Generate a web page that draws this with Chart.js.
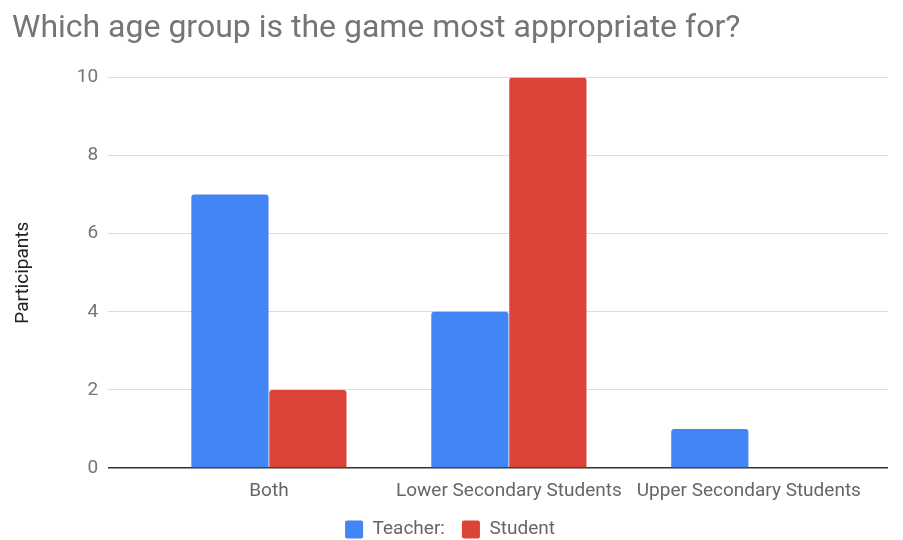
<!DOCTYPE html>
<html>
<head>
<meta charset="utf-8">
<script src="https://cdn.jsdelivr.net/npm/chart.js@4/dist/chart.umd.min.js"></script>
<style>
  html, body { margin: 0; padding: 0; background: #fff; }
  #wrap { width: 903px; height: 540px; }
</style>
</head>
<body>
<div id="wrap"><canvas id="ageChart"></canvas></div>
<script>
// Survey answers per age group
const categories = ['Both', 'Lower Secondary Students', 'Upper Secondary Students'];
const teacherCounts = [7, 4, 1];
const studentCounts = [2, 10, 0];
const yTicks = [0, 2, 4, 6, 8, 10];

// groups sit on a numeric axis so the band can be inset from the gridlines
const groupIndex = categories.map((_, i) => i);
const xRange = { min: -0.67, max: 2.58 };

const colors = {
  teacher: '#4285F4',
  student: '#DB4437',
  title: '#757575',
  tick: '#757575',
  label: '#666666',
  grid: '#dcdcdc',
  zero: '#333333'
};

const font = 'Roboto, "Noto Sans", sans-serif';

new Chart(document.getElementById('ageChart'), {
  type: 'bar',
  data: {
    labels: groupIndex,
    datasets: [
      {
        label: 'Teacher:',
        data: teacherCounts,
        backgroundColor: colors.teacher,
        borderRadius: 3,
        borderSkipped: 'bottom',
        categoryPercentage: 0.65,
        barPercentage: 0.99
      },
      {
        label: 'Student',
        data: studentCounts,
        backgroundColor: colors.student,
        borderRadius: 3,
        borderSkipped: 'bottom',
        categoryPercentage: 0.65,
        barPercentage: 0.99
      }
    ]
  },
  options: {
    responsive: true,
    maintainAspectRatio: false,
    animation: false,
    // legend box hangs a little past the bottom edge so its row sits low
    layout: { padding: { left: 12, right: 15, top: 0, bottom: -9 } },
    plugins: {
      title: {
        display: true,
        text: 'Which age group is the game most appropriate for?',
        align: 'start',
        color: colors.title,
        font: { family: font, size: 32, weight: 'normal' },
        padding: { top: 10, bottom: 29 }
      },
      legend: {
        position: 'bottom',
        labels: {
          color: colors.label,
          font: { family: font, size: 19 },
          boxWidth: 18,
          boxHeight: 18,
          padding: 17,
          useBorderRadius: true,
          borderRadius: 2
        }
      },
      tooltip: { enabled: false }
    },
    scales: {
      x: {
        type: 'linear',
        offset: false,
        min: xRange.min,
        max: xRange.max,
        afterBuildTicks: axis => { axis.ticks = groupIndex.map(v => ({ value: v })); },
        grid: { display: false, drawTicks: false },
        border: { display: false },
        ticks: {
          color: colors.label,
          font: { family: font, size: 19 },
          maxRotation: 0,
          autoSkip: false,
          padding: 12,
          callback: v => categories[v]
        },
        afterFit: axis => { axis.height = 35; }
      },
      y: {
        min: 0,
        max: 10,
        afterBuildTicks: axis => { axis.ticks = yTicks.map(v => ({ value: v })); },
        border: { display: false },
        grid: {
          drawTicks: false,
          color: ctx => (ctx.tick && ctx.tick.value === 0 ? colors.zero : colors.grid),
          lineWidth: ctx => (ctx.tick && ctx.tick.value === 0 ? 1.5 : 1)
        },
        ticks: {
          color: colors.tick,
          font: { family: font, size: 19 },
          padding: 10
        },
        title: {
          display: true,
          text: 'Participants',
          color: '#222222',
          font: { family: font, size: 19 },
          padding: { top: 0, bottom: 32 }
        }
      }
    }
  }
});
</script>
</body>
</html>
